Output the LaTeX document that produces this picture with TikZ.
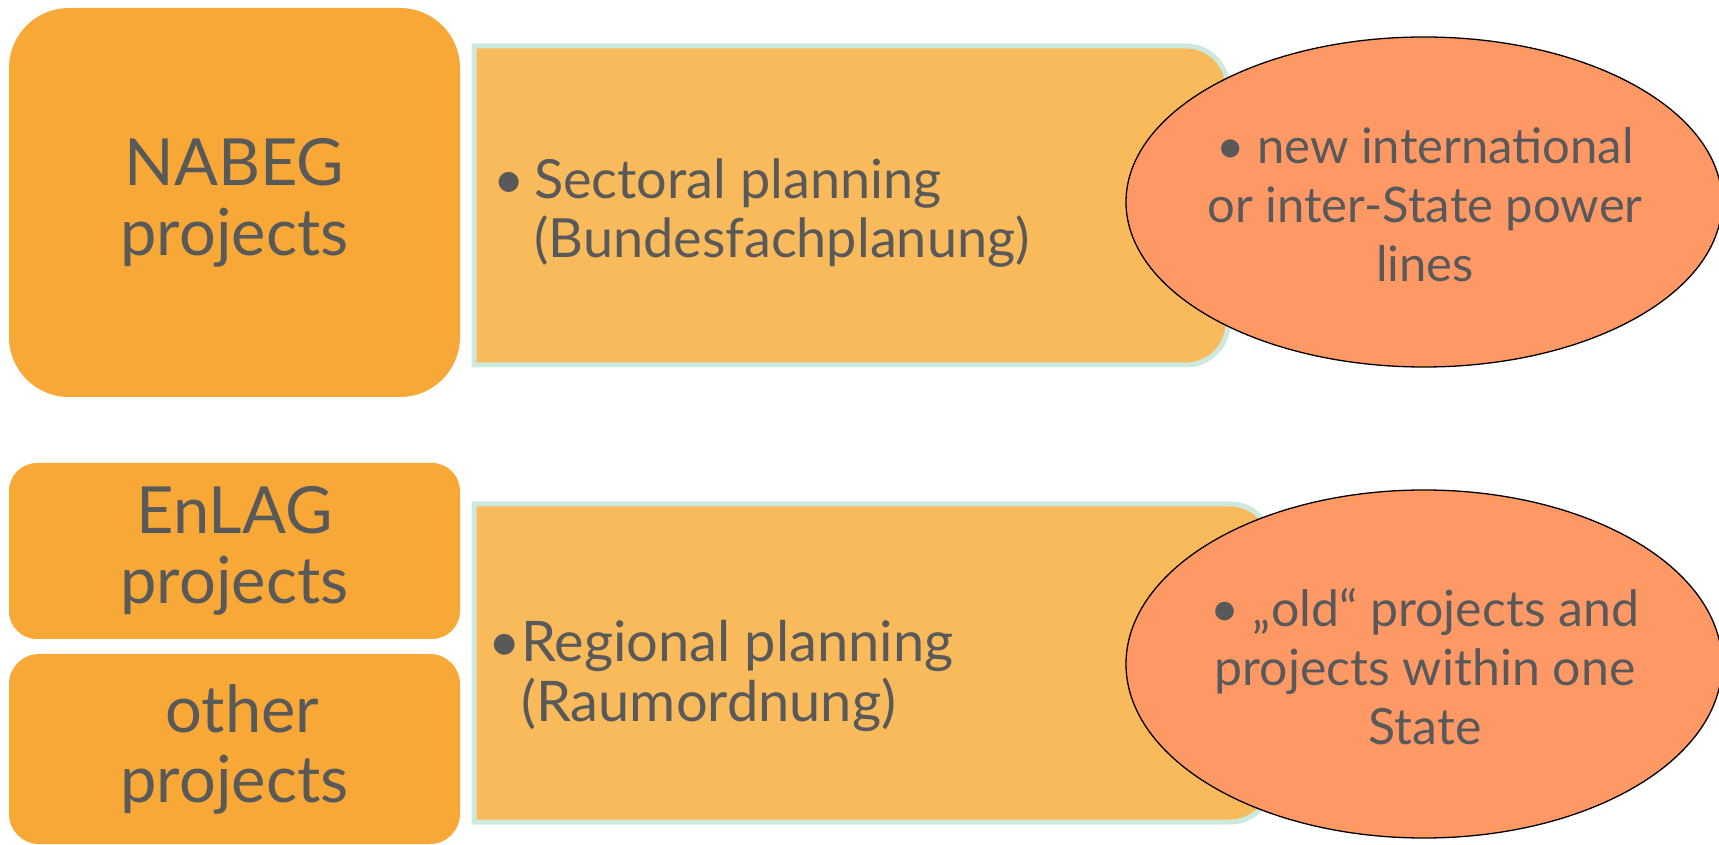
\documentclass[tikz,border=0pt]{standalone}
\usepackage{fontspec}
\setmainfont{Lato}
\usetikzlibrary{shapes.geometric}
\definecolor{boxorange}{HTML}{F7A836}
\definecolor{midfill}{HTML}{F9BA5B}
\definecolor{midedge}{HTML}{CDE9DE}
\definecolor{ellfill}{HTML}{FE9966}
\definecolor{txtgray}{HTML}{595959}
\tikzset{
  leftbox/.style={draw=none,fill=boxorange,rounded corners=#1,inner sep=0pt,align=center,text=txtgray,font=\fontsize{65}{70}\selectfont},
  midbox/.style={fill=midfill,draw=midedge,line width=5pt},
  ovalbox/.style={ellipse,fill=ellfill,draw=black,line width=1.3pt,inner sep=0pt},
  midtext/.style={align=left,text=txtgray,inner sep=0pt},
  ovaltext/.style={align=center,text=txtgray,inner sep=0pt},
}
\begin{document}
\begin{tikzpicture}[x=1pt,y=1pt]
\useasboundingbox (0,0) rectangle (1719,844);
% left boxes
\node[leftbox=60pt,minimum width=451pt,minimum height=389pt] (nabeg) at (234.5,641.5) {NABEG\\projects};
\node[leftbox=28pt,minimum width=451pt,minimum height=176pt] (enlag) at (234.5,293) {EnLAG\\projects};
\node[leftbox=30pt,minimum width=451pt,minimum height=190pt] (other) at (234.5,95) {\hspace*{0.25em}other\\projects};
% middle boxes
\draw[midbox] (474,479) -- (474,798) -- (1186,798) arc[start angle=90,end angle=0,radius=42pt] -- (1228,521) arc[start angle=0,end angle=-90,radius=42pt] -- cycle;
\draw[midbox] (474,22) -- (474,340) -- (1230,340) arc[start angle=90,end angle=0,radius=42pt] -- (1272,64) arc[start angle=0,end angle=-90,radius=42pt] -- cycle;
\node[midtext,anchor=west,font=\fontsize{54}{59}\selectfont] (sect) at (493,631) {\makebox[41pt][l]{•}Sectoral planning\\\hspace*{41pt}(Bundesfachplanung)};
\node[midtext,anchor=west,font=\fontsize{56}{60}\selectfont] (reg) at (488,168) {\makebox[33pt][l]{•}Regional planning\\\hspace*{33pt}(Raumordnung)};
% ellipses
\node[ovalbox,minimum width=596pt,minimum height=330pt] (e1) at (1424,642) {};
\node[ovalbox,minimum width=596pt,minimum height=348pt] (e2) at (1424,180) {};
\node[ovaltext,font=\fontsize{49}{59}\selectfont] (t1) at (1425,639) {• new international\\or inter-State power\\lines};
\node[ovaltext,font=\fontsize{50}{59}\selectfont] (t2) at (1425,177) {• „old“ projects and\\projects within one\\State};
\end{tikzpicture}
\end{document}
